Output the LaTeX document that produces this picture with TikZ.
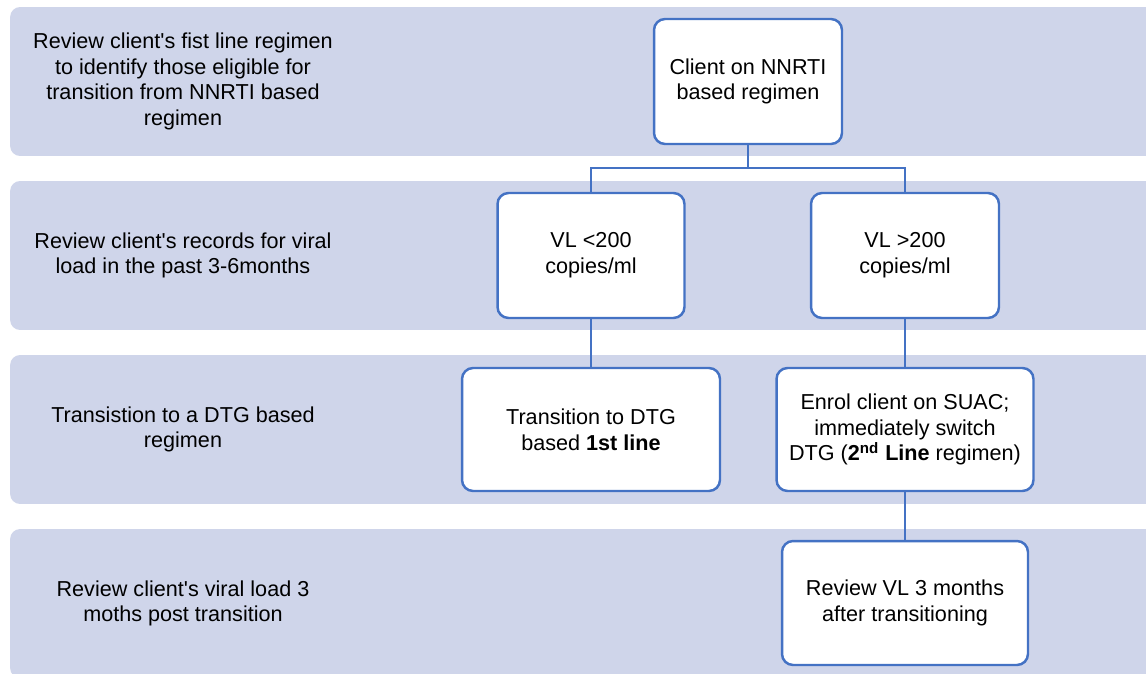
\documentclass[tikz,border=0pt]{standalone}
\usepackage{fontspec}
\setmainfont{Liberation Sans}
\definecolor{bandfill}{HTML}{CFD5EA}
\definecolor{boxline}{HTML}{4472C4}
\begin{document}
\begin{tikzpicture}[x=0.02cm,y=-0.02cm,
  every node/.style={font=\fontsize{12.3}{14.6}\selectfont,align=center,inner sep=0pt},
  band/.style={fill=bandfill,rounded corners=0.2cm,minimum width=23.12cm,minimum height=2.98cm},
  stepbox/.style={draw=boxline,line width=1.4pt,fill=white,rounded corners=0.22cm},
  link/.style={draw=boxline,line width=1.1pt}]
  \useasboundingbox (0,0) rectangle (1146,673);
  \clip (0,0) rectangle (1146,673);
  % stage bands
  \node[band] (band1) at (588,81.5) {};
  \node[band] (band2) at (588,255.5) {};
  \node[band] (band3) at (588,429.5) {};
  \node[band] (band4) at (588,603.5) {};
  % stage texts
  \node (stage1) at (183,81.5) {Review client\textquotesingle s fist line regimen\\to identify those eligible for\\transition from NNRTI based\\regimen};
  \node (stage2) at (183,255.5) {Review client\textquotesingle s records for viral\\load in the past 3-6months};
  \node (stage3) at (183,429.5) {Transistion to a DTG based\\regimen};
  \node (stage4) at (183,603.5) {Review client\textquotesingle s viral load 3\\moths post transition};
  % flow boxes
  \node[stepbox,minimum width=3.76cm,minimum height=2.5cm] (nnrti) at (748,81.5) {Client on NNRTI\\based regimen};
  \node[stepbox,minimum width=3.74cm,minimum height=2.5cm] (low) at (591,255.5) {VL <200\\copies/ml};
  \node[stepbox,minimum width=3.76cm,minimum height=2.5cm] (high) at (905,255.5) {VL >200\\copies/ml};
  \node[stepbox,minimum width=5.16cm,minimum height=2.46cm] (first) at (591,429.5) {Transition to DTG\\based \textbf{1st line}};
  \node[stepbox,minimum width=5.14cm,minimum height=2.46cm] (second) at (905,429.5) {Enrol client on SUAC;\\immediately switch\\DTG (\textbf{2\textsuperscript{nd} Line} regimen)};
  \node[stepbox,minimum width=4.92cm,minimum height=2.48cm] (review) at (905,603) {Review VL 3 months\\after transitioning};
  % connectors
  \coordinate (split) at (748,168);
  \draw[link] (nnrti.south) -- (split);
  \draw[link] (split) -| (low.north);
  \draw[link] (split) -| (high.north);
  \draw[link] (low.south) -- (first.north);
  \draw[link] (high.south) -- (second.north);
  \draw[link] (second.south) -- (review.north);
\end{tikzpicture}
\end{document}
